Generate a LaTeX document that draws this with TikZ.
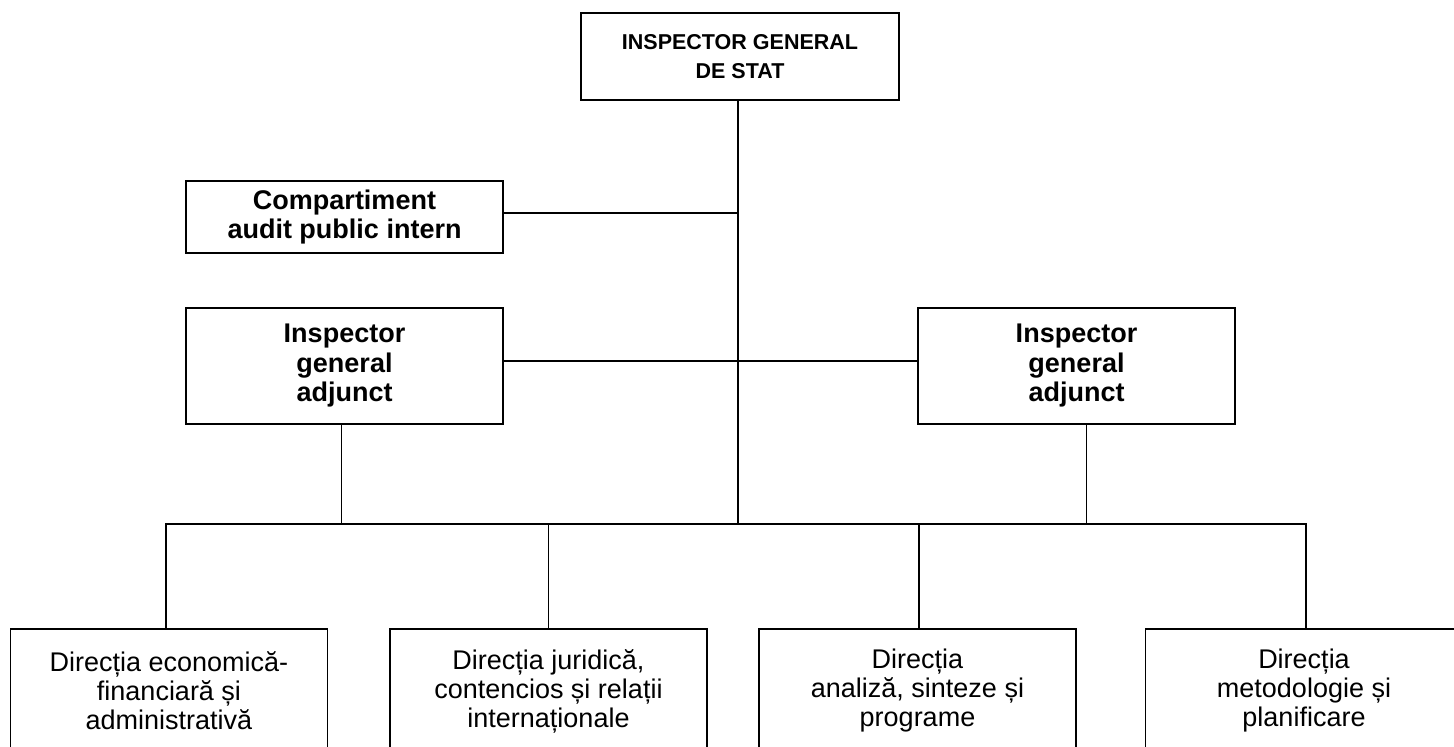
\documentclass[tikz,border=0pt]{standalone}
\usepackage{fontspec}
\setmainfont{Liberation Sans}
\usetikzlibrary{positioning}

\begin{document}
\begin{tikzpicture}[x=1pt,y=-1pt,line width=1.8pt,
	box/.style={draw,rectangle,inner sep=0pt,align=center,minimum width=317pt},
	head/.style={box,font=\bfseries\fontsize{21.5}{29}\selectfont},
	chief/.style={box,font=\bfseries\fontsize{27}{29.5}\selectfont},
	dept/.style={box,font=\fontsize{27}{29}\selectfont,minimum height=124pt}]
	\useasboundingbox (0,0) rectangle (1454,747);
	\clip (0,0) rectangle (1454,747);
	\node[head,minimum width=318pt,minimum height=87pt] (isg) at (740,56.5) {INSPECTOR GENERAL\\DE STAT};
	\node[chief,minimum height=72pt] (audit) at (344.5,217) {Compartiment\\audit public intern};
	\node[chief,minimum height=116pt] (adjL) at (344.5,366) {Inspector\\general\\adjunct};
	\node[chief,minimum height=116pt] (adjR) at (1076.5,366) {Inspector\\general\\adjunct};
	\node[dept,anchor=north] (econ) at (169,628) {Direcția economică-\\financiară și\\administrativă};
	\node[dept,anchor=north] (jur) at (548.5,628) {Direcția juridică,\\contencios și relații\\internaționale};
	\node[dept,anchor=north] (anal) at (917.5,628) {Direcția\\analiză, sinteze și\\programe};
	\node[dept,anchor=north] (metod) at (1304,628) {Direcția\\metodologie și\\planificare};
	\coordinate (bus) at (738,524);
	\draw (isg.south -| bus) -- (bus);
	\draw ([yshift=4pt]audit.east) -- ([yshift=4pt]audit.east -| bus);
	\draw ([yshift=5pt]adjL.east) -- ([yshift=5pt]adjR.west);
	\draw ([xshift=-3pt]adjL.south) -- ([xshift=-3pt]adjL.south |- bus);
	\draw ([xshift=10pt]adjR.south) -- ([xshift=10pt]adjR.south |- bus);
	\draw ([xshift=-3pt]econ.north) |- (bus) -| ([xshift=2pt]metod.north);
	\draw (jur.north) -- (jur.north |- bus);
	\draw ([xshift=1.5pt]anal.north) -- ([xshift=1.5pt]anal.north |- bus);
\end{tikzpicture}
\end{document}
